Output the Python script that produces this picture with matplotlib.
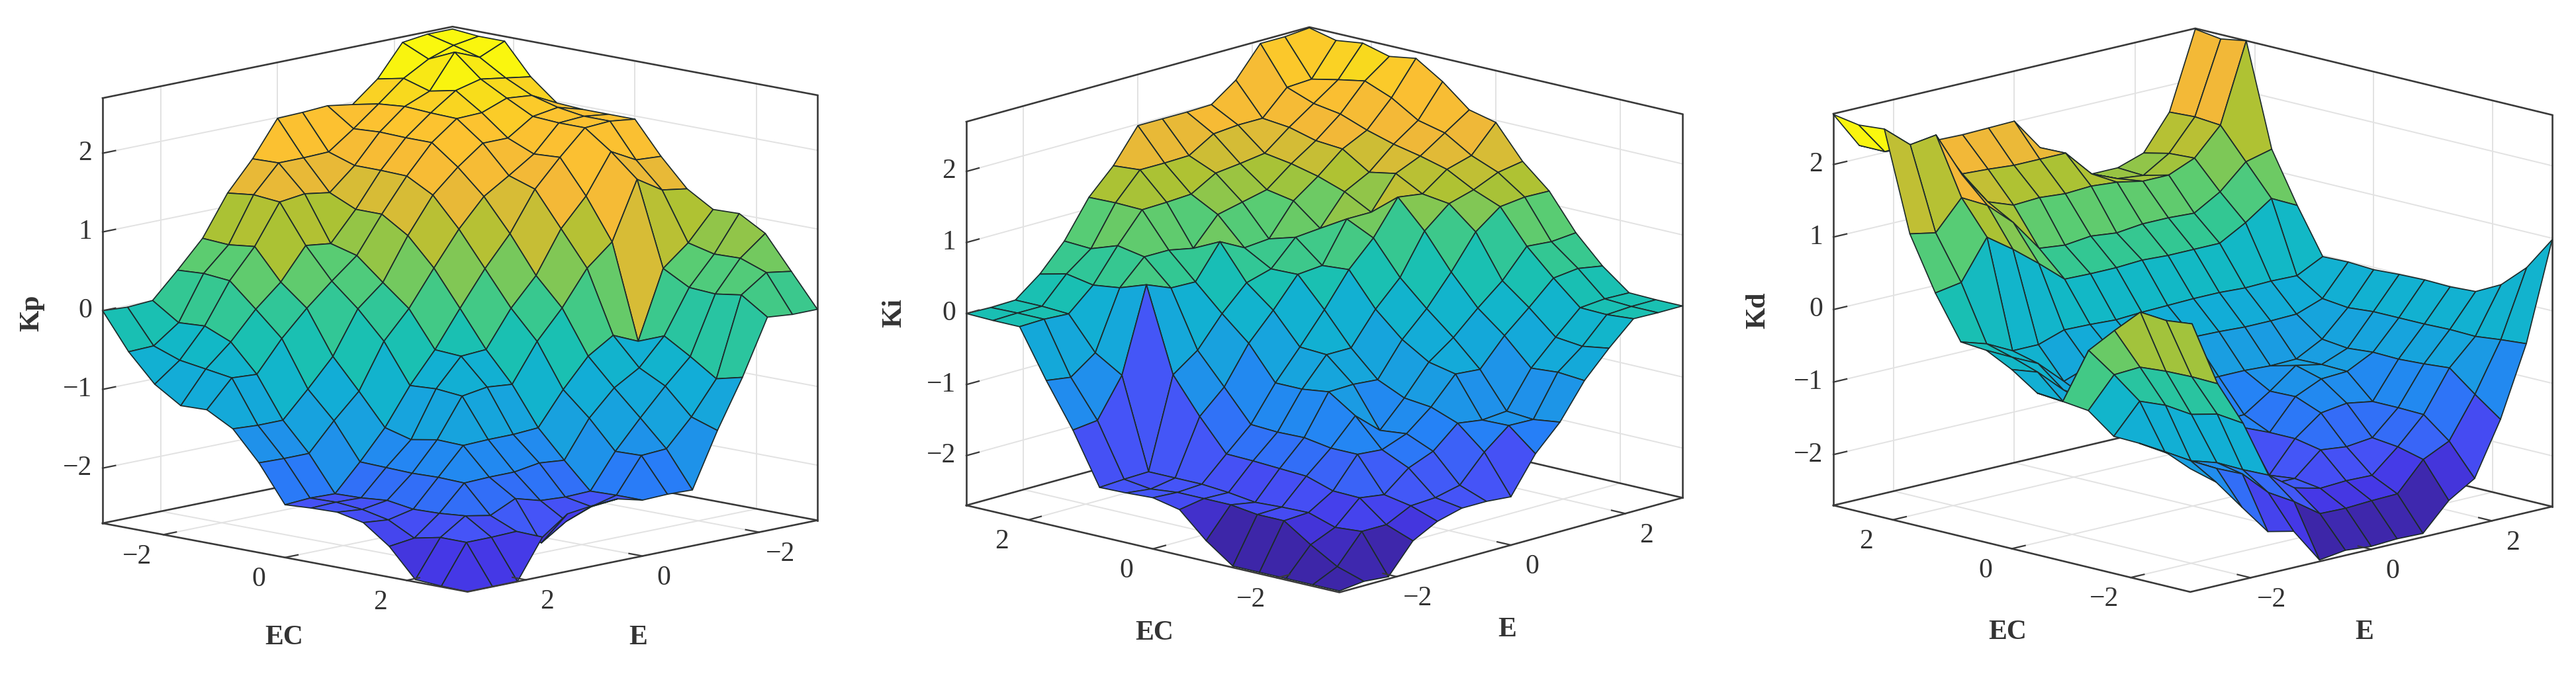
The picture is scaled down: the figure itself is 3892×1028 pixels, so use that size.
import numpy as np
import matplotlib
matplotlib.use("Agg")
import matplotlib.pyplot as plt
from matplotlib.colors import LinearSegmentedColormap
from mpl_toolkits.mplot3d import proj3d

W, H = 3892, 1028

axis_points = np.linspace(-3, 3, 15)
tick_values = [-2, 0, 2]
z_ticks = [-2, -1, 0, 1, 2]
z_lim = 2.7

# rows go from the left corner towards the front corner, columns from there to the right corner
kp = [
    [0, -.02, 0, .32, .66, 1.17, 1.54, 1.99, 2.0, 2.02, 1.97, 2.23, 2.63, 2.67, 2.67],
    [-.46, -.45, -.22, .34, .64, 1.21, 1.55, 1.55, 1.56, 1.79, 2.04, 2.3, 2.48, 2.59, 2.64],
    [-.81, -.57, -.2, .31, .68, 1.18, 1.22, 1.17, 1.45, 1.81, 2.07, 2.2, 2.63, 2.5, 2.64],
    [-1.02, -.62, -.34, .01, .29, .69, .65, 1.02, 1.45, 1.8, 2.05, 2.27, 2.35, 2.30, 2.25],
    [-1.01, -.67, -.69, -.3, .02, .3, .56, 1.02, 1.44, 1.8, 2.04, 2.05, 2.17, 2.14, 1.98],
    [-1.19, -1.21, -1.21, -.88, -.53, .01, .28, .81, 1.26, 1.55, 1.79, 1.79, 2.0, 2.05, 1.96],
    [-1.56, -1.57, -1.57, -1.22, -.91, -.34, .01, .46, .89, 1.24, 1.44, 1.65, 1.98, 2.0, 1.96],
    [-2.03, -2.01, -2.02, -1.68, -1.31, -.84, -.45, .01, .45, .83, 1.33, 1.67, 1.98, 2.0, 1.96],
    [-2.01, -2.0, -2.01, -1.69, -1.4, -.82, -.47, -.45, .01, .36, .89, 1.24, 1.74, 1.57, 1.55],
    [-2.0, -2.03, -1.98, -1.7, -1.34, -.85, -.8, -.83, -.35, .01, .45, .72, 1.45, 1.25, 1.2],
    [-2.07, -2.1, -2.03, -1.69, -1.35, -1.34, -1.34, -1.32, -.9, -.54, -.34, -.48, .38, .64, 1.0],
    [-2.31, -2.27, -2.02, -1.7, -1.69, -1.69, -1.64, -1.67, -1.2, -.88, -.69, -.35, .2, .56, 1.01],
    [-2.67, -2.2, -1.99, -2.05, -1.9, -1.99, -2.01, -2.0, -1.56, -1.2, -.86, -.55, .18, .57, .82],
    [-2.69, -2.2, -2.2, -2.19, -2.4, -2.19, -2.07, -1.99, -1.55, -1.53, -1.19, -.77, .23, .45, .4],
    [-2.7, -2.7, -2.7, -2.2, -1.97, -1.93, -1.91, -1.99, -1.98, -1.99, -1.3, -.69, .01, -.02, -.02],
]
ki = [
    [0, -.01, 0, .27, .64, 1.16, 1.51, 1.98, 1.98, 1.98, 1.99, 2.24, 2.66, 2.66, 2.69],
    [-.01, 0, 0, .36, .62, 1.17, 1.54, 1.54, 1.55, 1.76, 1.79, 1.79, 2.13, 2.15, 2.6],
    [-.01, 0, -.02, .29, .75, 1.16, 1.17, 1.19, 1.39, 1.43, 1.48, 1.75, 1.99, 2.23, 2.65],
    [-.68, -.73, -.48, .34, .68, .68, .61, .99, 1.07, 1.15, 1.42, 1.65, 1.93, 2.3, 2.55],
    [-1.29, -1.25, -.71, .47, .33, .32, .79, .61, .64, 1.08, 1.33, 1.62, 1.79, 2.15, 2.61],
    [-2.01, -1.99, -1.98, -.71, -.46, -.04, .3, .4, .75, .78, 1.2, 1.38, 1.68, 1.92, 2.37],
    [-2.0, -2.04, -1.98, -1.21, -.89, -.37, 0, .41, .44, 1.0, 1.0, 1.45, 1.6, 1.83, 2.06],
    [-1.98, -2.0, -1.98, -1.65, -1.33, -.84, -.43, 0, .47, .82, 1.3, 1.25, 1.5, 1.6, 1.97],
    [-2.06, -2.0, -2.01, -1.66, -1.35, -.84, -.45, -.45, 0, .35, .91, 1.2, 1.3, 1.45, 1.51],
    [-2.41, -2.0, -2.06, -1.68, -1.34, -.79, -.78, -.81, -.34, 0, .42, .89, 1.15, 1.19, 1.18],
    [-2.68, -2.05, -2.04, -1.7, -1.4, -1.04, -1.34, -.98, -.57, -.32, 0, .29, .68, .65, .68],
    [-2.68, -2.05, -2.03, -1.82, -1.4, -1.43, -1.3, -1.02, -.65, -.68, -.3, 0, .32, .36, .3],
    [-2.68, -2.3, -2.15, -1.83, -1.88, -1.6, -1.46, -1.16, -1.21, -1.18, -.67, -.33, -.01, .02, .01],
    [-2.68, -2.52, -2.12, -2.12, -1.95, -1.93, -1.85, -1.48, -1.2, -1.21, -.64, -.37, -.02, 0, 0],
    [-2.68, -2.64, -2.67, -2.26, -2.08, -1.99, -1.99, -2.02, -1.51, -1.16, -.67, -.31, .01, 0, 0],
]
kd = [
    [2.69, 2.18, 2.02, 2.0, 2.0, 1.99, 2.0, 2.01, 1.56, 1.35, 1.03, 1.03, 1.15, 1.63, 2.69],
    [2.63, 2.18, 2.15, 1.9, 1.62, 1.6, 1.57, 1.57, 1.57, 1.2, 1.05, 1.01, 1.23, 1.65, 2.64],
    [2.66, 2.36, 2.41, 1.78, 1.32, 1.19, 1.21, 1.18, 1.2, 1.17, 1.1, 1.1, 1.25, 1.62, 2.7],
    [1.3, 1.23, 1.63, 1.44, 1.12, .68, .64, .68, .64, .68, .68, .66, .87, 1.2, 1.29],
    [.57, .63, 1.17, .92, .64, .34, .33, .33, .35, .33, .33, .33, .53, .78, .60],
    [-.02, -.13, -.31, -.31, -.19, -.2, -.22, -.2, -.19, -.18, -.18, -.2, -.19, -.2, -.02],
    [-.05, -.23, -.4, -.73, -.6, -.55, -.55, -.55, -.54, -.55, -.57, -.57, -.56, -.43, -.01],
    [-.23, -.35, -.68, -.9, -1.0, -1.0, -1.0, -1.02, -1.0, -1.0, -1.02, -1.01, -.82, -.47, -.03],
    [-.47, -.67, -.8, -1.0, -1.2, -1.4, -1.45, -1.45, -1.44, -1.2, -.93, -1.0, -.86, -.44, -.01],
    [-.5, .12, .31, .48, .28, .15, -1.45, -1.45, -1.6, -1.19, -1.03, -1.01, -.83, -.44, 0],
    [-.54, -.13, -.11, -.25, -.41, -.59, -1.9, -2.02, -1.6, -1.33, -1.28, -1.34, -.84, -.44, -.01],
    [-.81, -.41, -.55, -.76, -.84, -1.05, -1.98, -1.98, -1.67, -1.71, -1.67, -1.34, -.82, -.43, .01],
    [-.82, -1.03, -1.23, -1.34, -1.52, -1.68, -1.94, -2.03, -2.01, -2.02, -1.71, -1.35, -.79, -.44, .19],
    [-.85, -1.06, -1.25, -1.41, -1.75, -1.96, -2.21, -2.22, -2.2, -2.19, -1.8, -1.63, -1.07, -.4, .51],
    [-1.0, -1.27, -1.7, -2.12, -2.2, -2.68, -2.63, -2.66, -2.64, -2.65, -2.28, -2.06, -1.33, -.37, .98],
]
# the fold in Kd is coloured brighter than its height gives
kd_fold_rows = [10, 11, 12]
kd_fold_colors = [
    [.45, .75, 1.1, 1.1, 1.1],
    [-.3, .2, .2, .2, .2],
    [-.5, -.5, -.5, -.5, -.5],
]

parula = LinearSegmentedColormap.from_list("parula", [
    (0.00, (0.24, 0.15, 0.66)),
    (0.09, (0.27, 0.22, 0.90)),
    (0.13, (0.27, 0.33, 0.97)),
    (0.22, (0.15, 0.50, 0.97)),
    (0.315, (0.10, 0.62, 0.88)),
    (0.40, (0.07, 0.68, 0.84)),
    (0.46, (0.07, 0.72, 0.78)),
    (0.50, (0.10, 0.75, 0.70)),
    (0.56, (0.20, 0.78, 0.58)),
    (0.62, (0.35, 0.80, 0.45)),
    (0.72, (0.68, 0.76, 0.20)),
    (0.80, (0.95, 0.72, 0.22)),
    (0.88, (0.99, 0.76, 0.19)),
    (0.94, (0.97, 0.87, 0.10)),
    (1.00, (0.98, 0.98, 0.05)),
])

plt.rcParams["font.family"] = ["Liberation Serif", "DejaVu Serif"]
fig = plt.figure(figsize=(W / 100, H / 100), dpi=100)

box_color = "#3a3a3a"
grid_color = "#e2e2e2"


def fit(ax, corner_a, corner_b, xa, xb, ya):
    # square axes, scaled and moved until two box corners land on the wanted pixels
    side, cx, cy = 1200.0, (xa + xb) / 2, H / 2
    for step in range(3):
        ax.set_position([(cx - side / 2) / W, (cy - side / 2) / H, side / W, side / H])
        M = ax.get_proj()
        pa = proj3d.proj_transform(*corner_a, M)[:2]
        pb = proj3d.proj_transform(*corner_b, M)[:2]
        da = ax.transData.transform(pa)
        db = ax.transData.transform(pb)
        if step == 0:
            side *= (xb - xa) / (db[0] - da[0])
        else:
            cx += xa - da[0]
            cy += (H - ya) - da[1]


def draw_panel(ax, rows, s, az, el, k, xl, xr, yb, name, name_xy, ec_xy, e_xy, color_rows=None):
    x, y = np.meshgrid(axis_points, axis_points)
    z = np.array(rows, dtype=float)
    c = z.copy() if color_rows is None else np.array(color_rows, dtype=float)
    # arrays are stored, flip to ascending E and EC
    z = z[:, ::-1] if s > 0 else z[::-1, :]
    c = c[:, ::-1] if s > 0 else c[::-1, :]
    colors = parula((c + z_lim) / (2 * z_lim))

    ax.set_proj_type("ortho")
    ax.view_init(elev=el, azim=az)
    ax.set_box_aspect((1, 1, k))
    ax.set_xlim(-3, 3, view_margin=0)
    ax.set_ylim(-3, 3, view_margin=0)
    ax.set_zlim(-z_lim, z_lim, view_margin=0)
    ax.set_axis_off()
    ax.computed_zorder = False

    fx, fy = 3 * s, 3 * s
    bx, by = -3 * s, -3 * s
    zb, zt = -z_lim, z_lim

    # grid on the floor and the two back walls
    for t in tick_values:
        ax.plot([t, t], [fy, by], [zb, zb], color=grid_color, lw=1.4, zorder=1)
        ax.plot([fx, bx], [t, t], [zb, zb], color=grid_color, lw=1.4, zorder=1)
        ax.plot([t, t], [by, by], [zb, zt], color=grid_color, lw=1.4, zorder=1)
        ax.plot([bx, bx], [t, t], [zb, zt], color=grid_color, lw=1.4, zorder=1)
    for t in z_ticks:
        ax.plot([fx, bx], [by, by], [t, t], color=grid_color, lw=1.4, zorder=1)
        ax.plot([bx, bx], [by, fy], [t, t], color=grid_color, lw=1.4, zorder=1)

    # back of the box
    ax.plot([fx, bx, bx], [by, by, fy], [zb, zb, zb], color=box_color, lw=1.9, zorder=2)
    ax.plot([fx, bx, bx], [by, by, fy], [zt, zt, zt], color=box_color, lw=1.9, zorder=2)
    ax.plot([fx, fx], [by, by], [zb, zt], color=box_color, lw=1.9, zorder=2)
    ax.plot([bx, bx], [fy, fy], [zb, zt], color=box_color, lw=1.9, zorder=2)

    ax.plot_surface(x, y, z, rstride=1, cstride=1, facecolors=colors, shade=False,
                    edgecolor="#1d2b2b", linewidth=1.25, antialiased=True, zorder=3)

    # front edges of the floor
    ax.plot([fx, fx, bx], [by, fy, fy], [zb, zb, zb], color=box_color, lw=1.9, zorder=4)

    fit(ax, (fx, by, zb), (bx, fy, zb), xl, xr, yb)

    M = ax.get_proj()
    tick_kw = dict(color=box_color, lw=1.6, zorder=4)
    text_kw = dict(xycoords="data", textcoords="offset pixels", fontsize=30,
                   color="#333333", annotation_clip=False, zorder=5)
    for t in tick_values:
        ax.plot([fx, fx - 0.22 * s], [t, t], [zb, zb], **tick_kw)
        ax.plot([t, t], [fy, fy - 0.22 * s], [zb, zb], **tick_kw)
        pec = proj3d.proj_transform(fx, t, zb, M)[:2]
        pe = proj3d.proj_transform(t, fy, zb, M)[:2]
        ax.annotate(f"{t}".replace("-", "\u2212"), pec, xytext=(-40, -33), ha="center",
                    va="center", **text_kw)
        ax.annotate(f"{t}".replace("-", "\u2212"), pe, xytext=(32, -33), ha="center",
                    va="center", **text_kw)
    for t in z_ticks:
        ax.plot([fx, fx - 0.22 * s], [by, by], [t, t], **tick_kw)
        pz = proj3d.proj_transform(fx, by, t, M)[:2]
        ax.annotate(f"{t}".replace("-", "\u2212"), pz, xytext=(-16, 0), ha="right",
                    va="center", **text_kw)

    label_kw = dict(fontsize=30, fontweight="bold", color="#333333", ha="center", va="center")
    fig.text(name_xy[0] / W, 1 - name_xy[1] / H, name, rotation=90, **label_kw)
    fig.text(ec_xy[0] / W, 1 - ec_xy[1] / H, "EC", **label_kw)
    fig.text(e_xy[0] / W, 1 - e_xy[1] / H, "E", **label_kw)


kd_colors = np.array(kd, dtype=float)
for row, values in zip(kd_fold_rows, kd_fold_colors):
    kd_colors[row, :len(values)] = values

ax1 = fig.add_subplot(131, projection="3d")
ax2 = fig.add_subplot(132, projection="3d")
ax3 = fig.add_subplot(133, projection="3d")

draw_panel(ax1, kp, 1, 43.8, 11.3, 0.858, 155, 1235, 791, "Kp", (48, 473), (429, 964), (964, 964))
draw_panel(ax2, ki, -1, 222.6, 14.7, 0.783, 1460, 2542, 764, "Ki", (1351, 473), (1744, 957), (2277, 952))
draw_panel(ax3, kd, -1, 225.4, 13.85, 0.794, 2770, 3856, 764, "Kd", (2656, 469), (3033, 956), (3572, 956),
           color_rows=kd_colors)

fig.savefig("out.png", dpi=100, facecolor="white")
